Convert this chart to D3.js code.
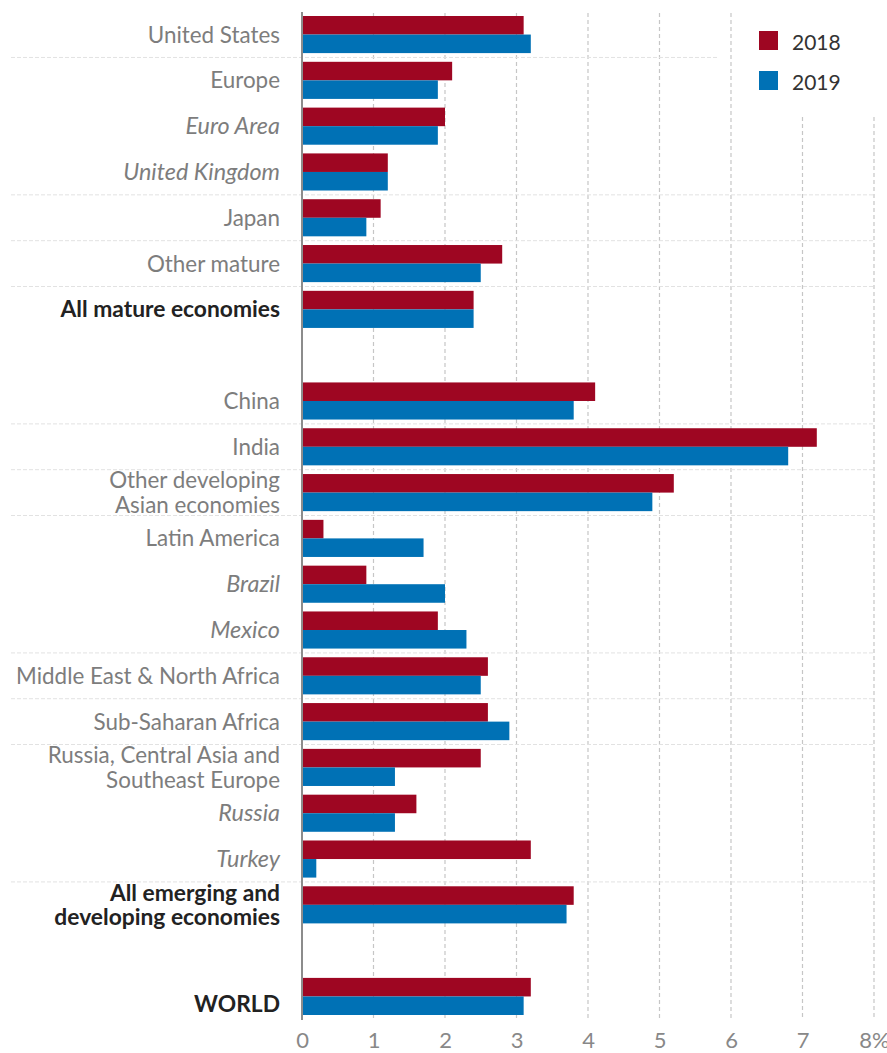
<!DOCTYPE html>
<html lang="en">
<head>
    <meta charset="UTF-8">
    <title>GDP growth 2018-2019</title>
    <script src="https://d3js.org/d3.v7.min.js"></script>
    <style>
        body { margin: 0; background: #fff; }
        .label { font-family: Lato, "Noto Sans", sans-serif; font-size: 22.4px; font-weight: 400; fill: #7d7d7d; }
        .label.sub { font-style: italic; font-size: 23.4px; }
        .label.total { font-weight: 700; font-size: 22.8px; fill: #222; }
        .tick text { font-family: Lato, "Noto Sans", sans-serif; font-size: 22px; fill: #888; }
        .legend text { font-family: Lato, "Noto Sans", sans-serif; font-size: 21px; fill: #333; }
    </style>
</head>
<body>
    <script>
        // rows top to bottom, null = empty spacer row
        const categories = ["United States", "Europe", "Euro Area", "United Kingdom", "Japan", "Other mature",
            "All mature economies", null, "China", "India", "Other developing\nAsian economies", "Latin America",
            "Brazil", "Mexico", "Middle East & North Africa", "Sub-Saharan Africa",
            "Russia, Central Asia and\nSoutheast Europe", "Russia", "Turkey",
            "All emerging and\ndeveloping economies", null, "WORLD"];
        const values2018 = [3.1, 2.1, 2.0, 1.2, 1.1, 2.8, 2.4, null, 4.1, 7.2, 5.2, 0.3, 0.9, 1.9, 2.6, 2.6, 2.5, 1.6, 3.2, 3.8, null, 3.2];
        const values2019 = [3.2, 1.9, 1.9, 1.2, 0.9, 2.5, 2.4, null, 3.8, 6.8, 4.9, 1.7, 2.0, 2.3, 2.5, 2.9, 1.3, 1.3, 0.2, 3.7, null, 3.1];
        const seriesNames = ["2018", "2019"];
        const seriesColors = ["#9e0622", "#0071b5"];
        const subRows = ["Euro Area", "United Kingdom", "Brazil", "Mexico", "Russia", "Turkey"];
        const totalRows = ["All mature economies", "All emerging and\ndeveloping economies", "WORLD"];
        const dividersAfter = ["United States", "United Kingdom", "Japan", "Other mature", "China", "India",
            "Other developing\nAsian economies", "Mexico", "Middle East & North Africa", "Sub-Saharan Africa", "Turkey"];
        const xTicks = [0, 1, 2, 3, 4, 5, 6, 7, 8];

        const width = 887, height = 1053;
        const svg = d3.select("body").append("svg")
            .attr("width", width)
            .attr("height", height);

        const x = d3.scaleLinear().domain([0, 8]).range([302, 874]);
        const y = d3.scaleBand()
            .domain(d3.range(categories.length))
            .range([16, 1015])
            .paddingInner(0.19)
            .paddingOuter(0);
        const sub = d3.scaleBand().domain([0, 1]).range([0, y.bandwidth()]);

        const legendBottom = 100;
        const gridTop = 13, gridBottom = 1020;

        // vertical dashed grid
        svg.append("g").selectAll("line")
            .data(xTicks.filter(d => d > 0))
            .join("line")
            .attr("x1", d => x(d)).attr("x2", d => x(d))
            .attr("y1", d => x(d) > 740 ? legendBottom + 17 : gridTop)
            .attr("y2", gridBottom)
            .attr("stroke", "#c6c6c6")
            .attr("stroke-width", 1.2)
            .attr("stroke-dasharray", "4,3");

        // horizontal row dividers
        const gap = y.step() - y.bandwidth();
        svg.append("g").selectAll("line")
            .data(dividersAfter)
            .join("line")
            .attr("x1", 11)
            .attr("x2", (d, i) => i === 0 ? 718 : 874)
            .attr("y1", d => y(categories.indexOf(d)) + y.bandwidth() + gap / 2)
            .attr("y2", d => y(categories.indexOf(d)) + y.bandwidth() + gap / 2)
            .attr("stroke", "#e2e2e2")
            .attr("stroke-width", 1)
            .attr("stroke-dasharray", "4,2");

        // bars
        const rows = categories.map((c, i) => ({ i, c, v: [values2018[i], values2019[i]] })).filter(d => d.c);
        const group = svg.append("g").selectAll("g")
            .data(rows)
            .join("g")
            .attr("transform", d => `translate(0,${y(d.i)})`);
        group.selectAll("rect")
            .data(d => d.v.map((v, k) => ({ v, k })))
            .join("rect")
            .attr("x", x(0))
            .attr("y", d => sub(d.k))
            .attr("width", d => x(d.v) - x(0))
            .attr("height", sub.bandwidth())
            .attr("fill", d => seriesColors[d.k]);

        // zero line
        svg.append("line")
            .attr("x1", x(0)).attr("x2", x(0))
            .attr("y1", 12).attr("y2", gridBottom)
            .attr("stroke", "#8c8c8c")
            .attr("stroke-width", 2);

        // category labels
        const lineH = 24.6;
        rows.forEach(d => {
            const lines = d.c.split("\n");
            const cy = y(d.i) + y.bandwidth() / 2 + 8 + (d.c === "WORLD" ? 8 : 0);
            const t = svg.append("text")
                .attr("class", "label" + (subRows.includes(d.c) ? " sub" : "") + (totalRows.includes(d.c) ? " total" : ""))
                .attr("text-anchor", "end");
            lines.forEach((l, k) => {
                t.append("tspan")
                    .attr("x", 280)
                    .attr("y", cy + (k - (lines.length - 1) / 2) * lineH)
                    .text(l);
            });
        });

        // x axis labels
        const axis = svg.append("g")
            .attr("transform", `translate(0,${gridBottom - 2})`)
            .call(d3.axisBottom(x).tickValues(xTicks).tickSize(0).tickPadding(14)
                .tickFormat(d => d === 8 ? "8%" : d));
        axis.select(".domain").remove();

        // legend
        const legend = svg.append("g").attr("class", "legend");
        seriesNames.forEach((s, k) => {
            legend.append("rect")
                .attr("x", 759).attr("y", 31 + k * 40)
                .attr("width", 19).attr("height", 19)
                .attr("fill", seriesColors[k]);
            legend.append("text")
                .attr("x", 792).attr("y", 50 + k * 40)
                .text(s);
        });
    </script>
</body>
</html>
